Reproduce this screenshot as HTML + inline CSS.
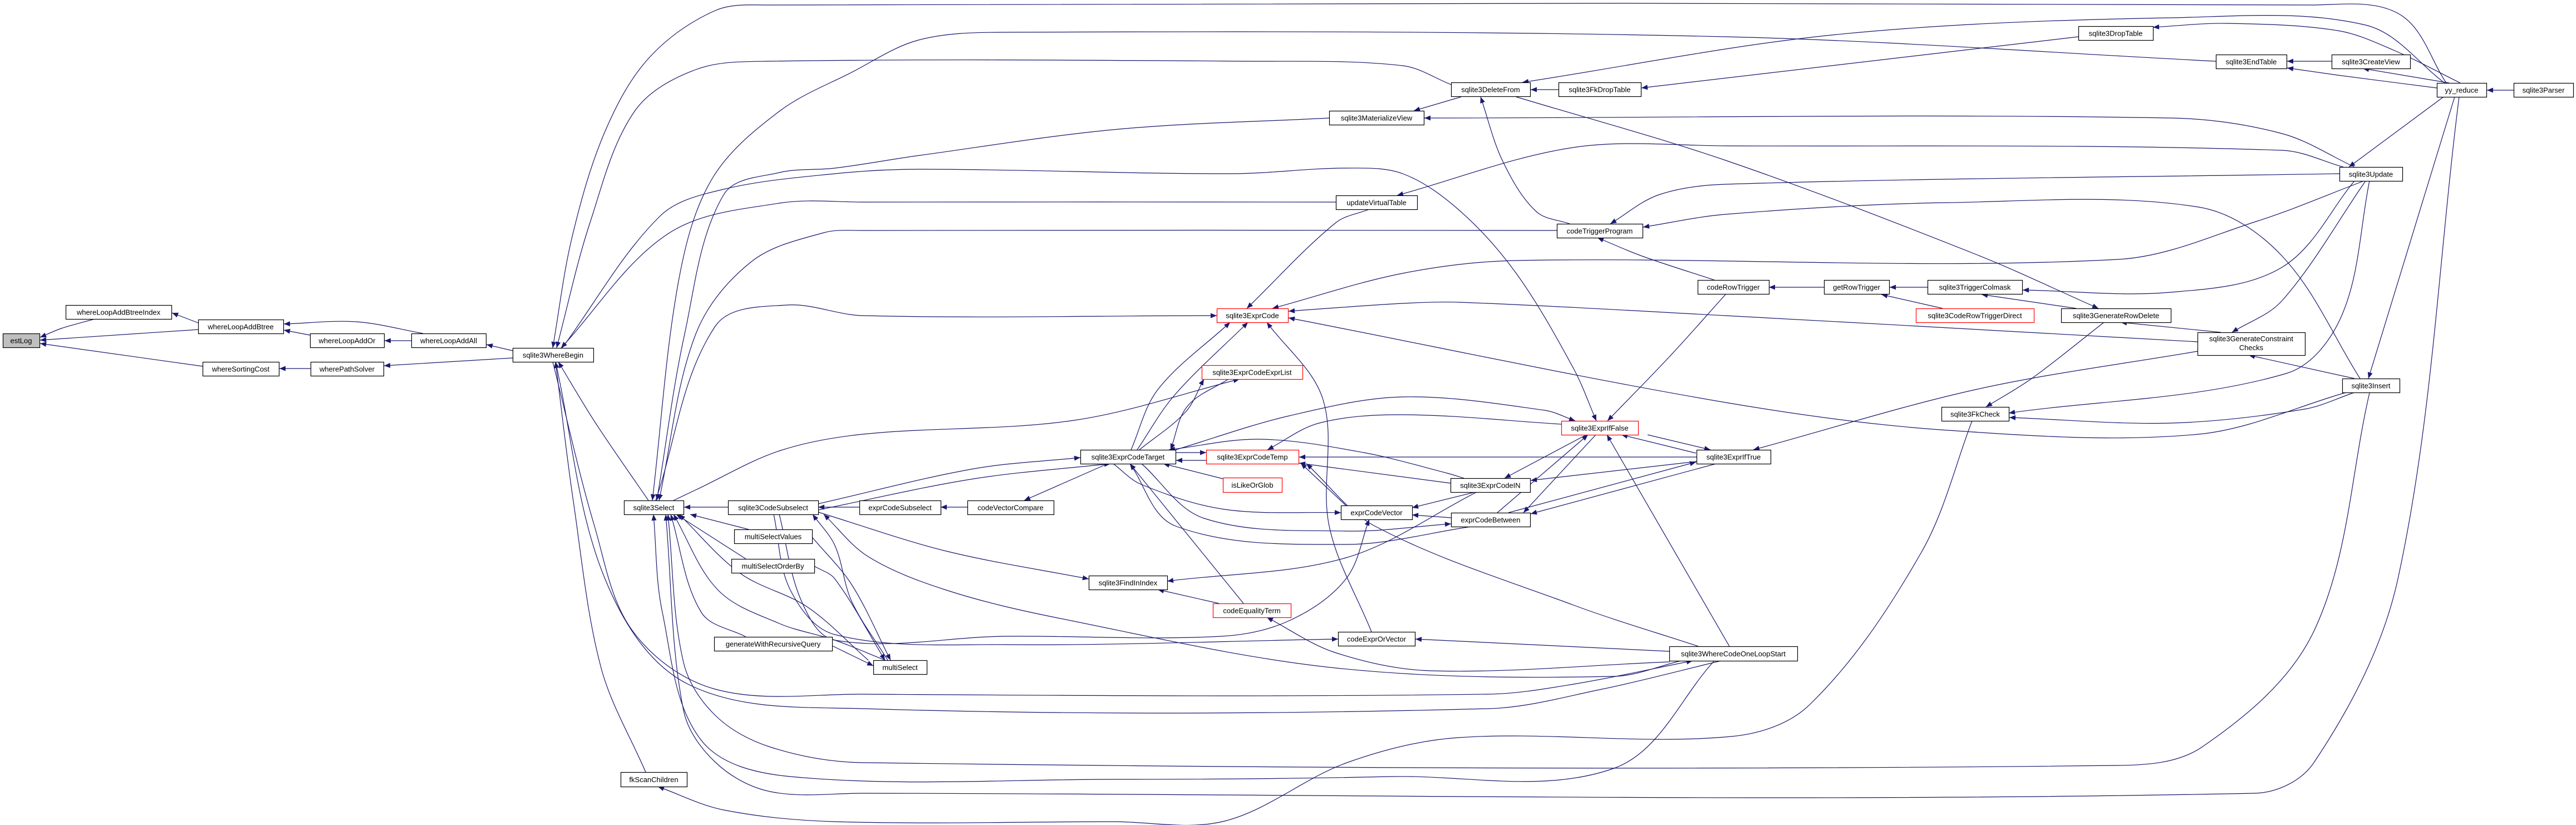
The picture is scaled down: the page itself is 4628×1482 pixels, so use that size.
<!DOCTYPE html>
<html><head><meta charset="utf-8"><style>
html,body{margin:0;padding:0;background:#fff;}
svg{display:block;}
text{font-family:"Liberation Sans","DejaVu Sans",sans-serif;font-size:13px;fill:#000;}
</style></head><body>
<svg id="g" width="4628" height="1482" viewBox="0 0 4628 1482" xmlns="http://www.w3.org/2000/svg">
<g id="edges"></g>
<g id="nodes"></g>
</svg>
<script>
const nodeNames=["estLog","whereLoopAddBtreeIndex","whereLoopAddBtree","whereLoopAddOr","whereLoopAddAll","whereSortingCost","wherePathSolver","sqlite3WhereBegin","sqlite3Select","sqlite3CodeSubselect","multiSelectValues","multiSelectOrderBy","generateWithRecursiveQuery","fkScanChildren","multiSelect","sqlite3DeleteFrom","sqlite3FkDropTable","sqlite3MaterializeView","updateVirtualTable","codeTriggerProgram","sqlite3ExprCode","sqlite3ExprCodeExprList","sqlite3ExprIfFalse","sqlite3ExprCodeTarget","sqlite3ExprCodeTemp","isLikeOrGlob","sqlite3ExprCodeIN","exprCodeSubselect","codeVectorCompare","exprCodeVector","exprCodeBetween","sqlite3FindInIndex","codeEqualityTerm","codeExprOrVector","sqlite3WhereCodeOneLoopStart","sqlite3DropTable","sqlite3EndTable","sqlite3CreateView","yy_reduce","sqlite3Parser","sqlite3Update","codeRowTrigger","getRowTrigger","sqlite3TriggerColmask","sqlite3CodeRowTriggerDirect","sqlite3GenerateRowDelete","sqlite3GenerateConstraintChecks","sqlite3Insert","sqlite3FkCheck","sqlite3ExprIfTrue"];
const nodeBoxes=[[5,599,66,25],[118,548,190,25],[356,574,153,25],[557,599,133,25],[739,599,134,25],[364,650,137,25],[558,650,131,25],[921,625,145,25],[1121,899,107,25],[1308,899,162,25],[1319,951,140,25],[1314,1004,149,25],[1283,1144,212,25],[1115,1387,119,26],[1569,1186,96,25],[2607,148,142,25],[2800,148,148,25],[2388,199,170,25],[2400,351,146,25],[2797,402,154,25],[2186,554,128,25],[2159,656,181,25],[2805,756,138,25],[1941,808,171,25],[2167,808,166,25],[2197,858,106,26],[2606,859,143,25],[1544,899,146,25],[1738,899,155,25],[2409,908,128,25],[2607,921,142,25],[1956,1034,141,25],[2179,1084,140,25],[2404,1135,138,25],[2999,1161,230,26],[3734,47,134,25],[3981,98,127,25],[4189,98,141,25],[4378,149,89,25],[4516,149,107,25],[4203,300,113,25],[3050,503,128,25],[3277,503,117,25],[3463,503,170,25],[3442,554,212,25],[3703,554,197,25],[3948,597,193,41],[4208,680,103,25],[3488,731,121,25],[3048,808,133,25]];
const redNodes=["sqlite3ExprCode","sqlite3ExprCodeExprList","sqlite3ExprIfFalse","sqlite3ExprCodeTemp","isLikeOrGlob","codeEqualityTerm","sqlite3CodeRowTriggerDirect"];
const focusNode="estLog";
// edges: polylines, arrowhead at the first point (callee side)
const edgePaths=[
[[72,606],[110,590],[170,573]],
[[72,611],[356,592]],
[[72,617],[364,658]],
[[309,562],[356,580]],
[[510,582],[640,578],[760,599]],
[[510,593],[557,602]],
[[691,612],[739,612]],
[[874,619],[921,630]],
[[502,662],[558,662]],
[[690,657],[921,643]],
[[1003,650],[1070,760],[1165,899]],
[[998,650],[1030,900],[1080,1200],[1160,1387]],
[[993,625],[1028,425],[1087,236],[1166,104],[1285,19],[1384,9],[4150,9],[4310,25],[4395,149]],
[[1000,625],[1060,400],[1140,200],[1250,125],[1380,110],[2240,110],[2520,118],[2607,152]],
[[1172,899],[1220,500],[1280,320],[1400,200],[1530,130],[1650,72],[1800,58],[3100,66],[3981,110]],
[[2735,148],[3300,62],[3900,32],[4250,45],[4392,149]],
[[2750,161],[2800,161]],
[[2949,158],[3734,66]],
[[2660,174],[2700,290],[2760,380],[2820,402]],
[[2540,199],[2625,174]],
[[2559,212],[3900,212],[4100,240],[4230,300]],
[[1180,899],[1230,600],[1300,350],[1400,310],[1500,302],[1653,279],[2010,232],[2388,212]],
[[2868,756],[2827,662],[2724,491],[2622,378],[2520,312],[2418,302],[2214,312],[1653,304],[1500,312],[1300,340],[1186,388],[1010,625]],
[[1008,625],[1200,420],[1400,365],[1550,363],[2400,363]],
[[2510,351],[2826,265],[3100,262],[4100,270],[4210,300]],
[[1184,899],[1250,600],[1350,470],[1480,418],[1550,414],[2797,414]],
[[2893,402],[2980,350],[3100,331],[4203,312]],
[[2952,408],[3100,385],[3500,364],[3950,372],[4100,460],[4240,680]],
[[2870,427],[2950,460],[3080,503]],
[[3178,516],[3277,516]],
[[3395,516],[3463,516]],
[[3380,529],[3490,554]],
[[3560,529],[3730,554]],
[[3634,521],[3900,525],[4100,480],[4230,325]],
[[3770,554],[3550,457],[3100,288],[2724,174]],
[[3810,579],[3990,597]],
[[4010,597],[4100,540],[4250,325]],
[[4040,638],[4230,680]],
[[4220,300],[4390,174]],
[[4255,680],[4410,174]],
[[4109,110],[4189,110]],
[[4109,122],[4200,135],[4378,158]],
[[4245,123],[4400,149]],
[[3868,49],[4000,42],[4200,55],[4300,90],[4420,149]],
[[4468,162],[4516,162]],
[[3150,808],[3553,699],[3948,631]],
[[3568,731],[3650,680],[3780,579]],
[[3609,742],[4107,671],[4207,567],[4257,325]],
[[3610,750],[3900,760],[4140,735],[4230,705]],
[[2315,559],[2520,545],[2622,543],[3100,567],[3948,614]],
[[2286,554],[2520,491],[2724,468],[3805,466],[4056,397],[4247,325]],
[[2315,571],[3100,723],[3500,773],[3950,780],[4215,705]],
[[2186,567],[1550,567],[1413,548],[1285,586],[1178,899]],
[[2240,554],[2400,400],[2460,376]],
[[2210,579],[2080,700],[2032,808]],
[[2242,579],[2110,710],[2043,808]],
[[2276,579],[2377,718],[2388,945],[2464,1135]],
[[2163,681],[2130,740],[2047,808]],
[[2103,808],[2133,730],[2207,681]],
[[2227,681],[1930,755],[1550,780],[1400,810],[1250,880],[1210,899]],
[[2113,827],[2167,827]],
[[2167,813],[2113,813]],
[[2090,833],[2197,860]],
[[1941,822],[1750,842],[1470,905]],
[[1995,833],[1750,860],[1470,916]],
[[1840,899],[1990,833]],
[[1690,911],[1738,911]],
[[1470,911],[1544,911]],
[[1229,911],[1308,911]],
[[2100,808],[2263,789],[2450,813],[2600,850],[2630,859]],
[[2830,756],[2775,737],[2520,713],[2316,747],[2112,808]],
[[2277,808],[2370,760],[2520,745],[2805,762]],
[[2913,781],[3047,814]],
[[3073,808],[2960,781]],
[[2334,821],[3048,821]],
[[2750,863],[3048,829]],
[[2750,923],[3083,833]],
[[3047,830],[2710,921]],
[[2703,859],[2850,781]],
[[2737,921],[2867,781]],
[[2853,781],[2690,921]],
[[2887,781],[3107,1161]],
[[2334,832],[2606,868]],
[[2337,832],[2418,908]],
[[2537,912],[2650,884]],
[[2537,925],[2607,930]],
[[2409,921],[2200,915],[2050,870],[2000,833]],
[[2607,941],[2418,954],[2163,931],[2051,833]],
[[2030,833],[2112,945],[2418,978],[2643,946]],
[[2347,833],[2470,945],[2827,1087],[3051,1161]],
[[2030,833],[2234,1084]],
[[2080,1059],[2190,1084]],
[[1956,1040],[1700,990],[1470,920]],
[[2097,1044],[2418,1002],[2653,884]],
[[2276,1109],[2398,1172],[2571,1205],[3000,1189]],
[[2543,1148],[2999,1170]],
[[2460,933],[2418,1040],[2316,1115],[2194,1143],[1806,1143],[1500,1150],[1440,1080],[1400,924]],
[[2404,1148],[1806,1158],[1500,1140],[1420,1060],[1390,924]],
[[1600,1186],[1530,1050],[1460,966]],
[[1590,1186],[1500,1040],[1463,1017]],
[[1569,1196],[1495,1160]],
[[1240,924],[1345,951]],
[[1215,924],[1340,1004]],
[[1205,924],[1260,1100],[1340,1144]],
[[1210,924],[1290,1060],[1400,1120],[1500,1150],[1590,1186]],
[[1220,924],[1330,1030],[1450,1090],[1560,1186]],
[[1460,924],[1500,980],[1530,1080],[1595,1186]],
[[1480,924],[1560,1000],[1700,1060],[1900,1110],[2400,1200],[2900,1215],[3020,1187]],
[[1182,1413],[1300,1455],[1500,1476],[2000,1476],[2200,1475],[2420,1370],[2620,1325],[3110,1323],[3251,1266],[3452,992],[3543,756]],
[[1200,924],[1228,1190],[1285,1285],[1384,1342],[1550,1370],[3805,1375],[3956,1342],[4157,1134],[4257,706]],
[[1196,924],[1228,1276],[1286,1370],[1384,1422],[1550,1425],[4050,1425],[4157,1370],[4308,1040],[4418,174]],
[[3041,1187],[2827,1229],[2674,1247],[1550,1247],[1285,1238],[1137,1134],[1068,945],[993,650]],
[[998,650],[1087,1040],[1236,1229],[1550,1273],[2674,1273],[2878,1238],[3092,1187]],
[[1174,924],[1190,1100],[1260,1330],[1420,1395],[2000,1400],[2500,1395],[2900,1380],[3080,1187]],
[[2888,756],[3000,640],[3100,529]]
];
const NS="http://www.w3.org/2000/svg";
const eg=document.getElementById('edges'), ng=document.getElementById('nodes');
function tangent(p,i){
  const a=p[i-1]||p[i], b=p[i+1]||p[i];
  let dx=b[0]-a[0], dy=b[1]-a[1]; const L=Math.hypot(dx,dy)||1;
  return [dx/L,dy/L];
}
function smooth(p){
  if(p.length===2) return `M${p[0][0]},${p[0][1]}L${p[1][0]},${p[1][1]}`;
  let d=`M${p[0][0]},${p[0][1]}`;
  for(let i=0;i<p.length-1;i++){
    const p1=p[i],p2=p[i+1];
    const seg=Math.hypot(p2[0]-p1[0],p2[1]-p1[1])/3;
    const t1=tangent(p,i), t2=tangent(p,i+1);
    const c1=[p1[0]+t1[0]*seg,p1[1]+t1[1]*seg];
    const c2=[p2[0]-t2[0]*seg,p2[1]-t2[1]*seg];
    d+=`C${c1[0].toFixed(1)},${c1[1].toFixed(1)} ${c2[0].toFixed(1)},${c2[1].toFixed(1)} ${p2[0]},${p2[1]}`;
  }
  return d;
}
edgePaths.forEach((p,i)=>{
  const path=document.createElementNS(NS,'path');
  path.setAttribute('d',smooth(p));
  path.setAttribute('fill','none');
  path.setAttribute('stroke','#191970');
  path.setAttribute('stroke-width','1.2');
  
  
  eg.appendChild(path);
  const a=p[0], b=p[1];
  let dx=a[0]-b[0], dy=a[1]-b[1]; const L=Math.hypot(dx,dy)||1; dx/=L; dy/=L;
  const len=11, hw=4.5;
  const bx=a[0]-dx*len, by=a[1]-dy*len;
  const tri=document.createElementNS(NS,'polygon');
  tri.setAttribute('points',`${a[0]},${a[1]} ${bx-dy*hw},${by+dx*hw} ${bx+dy*hw},${by-dx*hw}`);
  tri.setAttribute('fill','#191970');
  
  
  eg.appendChild(tri);
});
nodeNames.forEach((n,i)=>{
  const [x,y,w,h]=nodeBoxes[i];
  const g=document.createElementNS(NS,'g');
  
  
  const r=document.createElementNS(NS,'rect');
  r.setAttribute('x',x+0.5);r.setAttribute('y',y+0.5);r.setAttribute('width',w);r.setAttribute('height',h);
  r.setAttribute('fill',n===focusNode?'#bfbfbf':'#fff');
  r.setAttribute('stroke',redNodes.includes(n)?'#ff0000':'#000');
  r.setAttribute('stroke-width','1.2');
  g.appendChild(r);
  const lines=n==="sqlite3GenerateConstraintChecks"?["sqlite3GenerateConstraint","Checks"]:[n];
  lines.forEach((s,k)=>{
    const t=document.createElementNS(NS,'text');
    t.setAttribute('x',x+w/2);
    t.setAttribute('y',lines.length>1? y+16+k*16 : y+h/2+5);
    t.setAttribute('text-anchor','middle');
    
    
    t.textContent=s;
    g.appendChild(t);
  });
  ng.appendChild(g);
});
</script>
</body></html>
